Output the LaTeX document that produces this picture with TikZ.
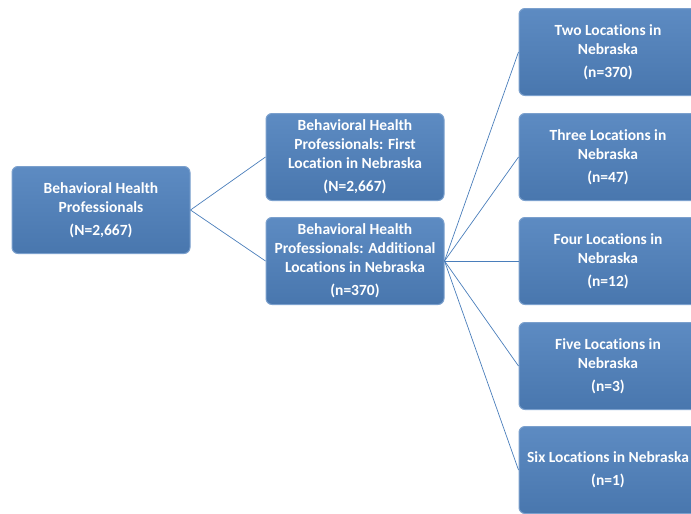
\documentclass[tikz,border=0pt]{standalone}
\usepackage{fontspec}
\setmainfont[Ligatures=NoCommon]{Carlito}
\definecolor{boxblue}{HTML}{4F81BD}
\definecolor{boxedge}{HTML}{7BA0CD}
\definecolor{linkblue}{HTML}{4A7EBB}

\begin{document}
\begin{tikzpicture}[x=1pt, y=-1pt,
  box/.style={draw=boxedge, top color=boxblue!92!white, bottom color=boxblue!92!black,
    rounded corners=6pt, line width=1pt, minimum width=178pt, minimum height=87pt,
    align=center, text=white, font=\fontsize{15.5}{19}\selectfont\bfseries},
  link/.style={draw=linkblue, line width=0.7pt}]
  \useasboundingbox (0,0) rectangle (691,514);
  \clip (0,0) rectangle (691,514);

  % Define nodes
  \node[box] (BHP) at (101,210) {Behavioral Health\\Professionals\\[4pt](N=2,667)};
  \node[box] (First) at (355,157) {Behavioral Health\\Professionals: First\\Location in Nebraska\\[4pt](N=2,667)};
  \node[box] (Additional) at (355,261) {Behavioral Health\\Professionals: Additional\\Locations in Nebraska\\[4pt](n=370)};
  \node[box] (Two) at (608,52) {Two Locations in\\Nebraska\\[4pt](n=370)};
  \node[box] (Three) at (608,157) {Three Locations in\\Nebraska\\[4pt](n=47)};
  \node[box] (Four) at (608,261) {Four Locations in\\Nebraska\\[4pt](n=12)};
  \node[box] (Five) at (608,366) {Five Locations in\\Nebraska\\[4pt](n=3)};
  \node[box] (Six) at (608,470) {Six Locations in Nebraska\\[4pt](n=1)};

  % Define edges
  \draw[link] (BHP.east) -- (First.west);
  \draw[link] (BHP.east) -- (Additional.west);
  \draw[link] (Additional.east) -- (Two.west);
  \draw[link] (Additional.east) -- (Three.west);
  \draw[link] (Additional.east) -- (Four.west);
  \draw[link] (Additional.east) -- (Five.west);
  \draw[link] (Additional.east) -- (Six.west);
\end{tikzpicture}
\end{document}
